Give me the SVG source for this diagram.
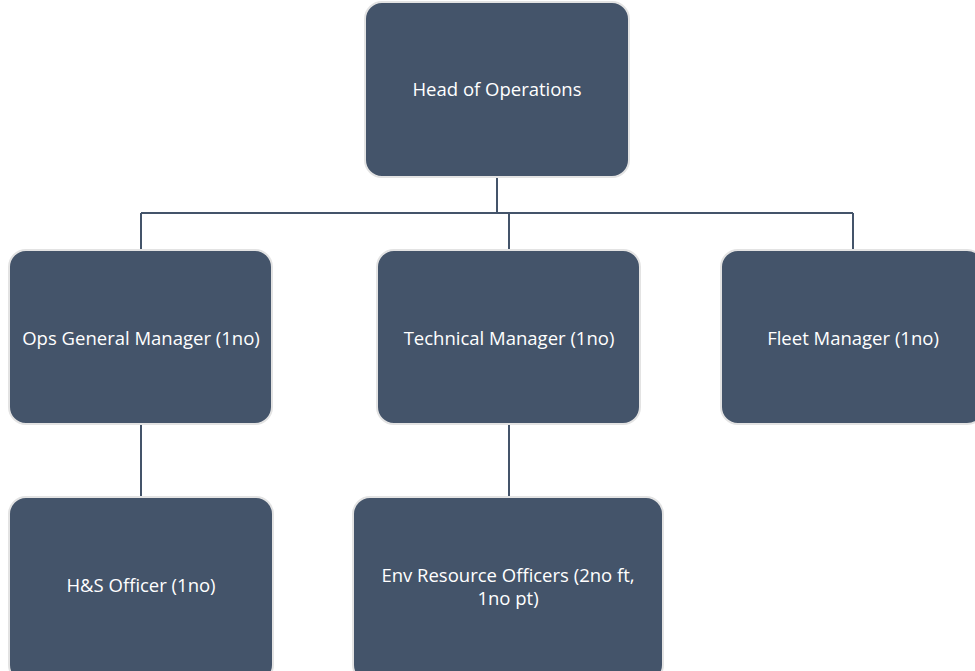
<svg xmlns="http://www.w3.org/2000/svg" width="975" height="671" viewBox="0 0 975 671">
<style>
.box{fill:#44546a;stroke:#e3e3e3;stroke-width:2}
.lbl{fill:#ffffff;font-family:"Open Sans","Liberation Sans",sans-serif;font-size:18.5px;text-anchor:middle}
.con{stroke:#44546a;stroke-width:2;fill:none}
</style>
<rect width="975" height="671" fill="#ffffff"/>
<g id="connectors">
<path class="con" d="M497 177V213M141 213H853M141 213V250M509 213V250M853 213V250M141 424V497M509 424V497"/>
</g>
<g id="head">
<rect class="box" x="365" y="2" width="264" height="175" rx="17"/>
<text class="lbl" x="497" y="96">Head of Operations</text>
</g>
<g id="ops">
<rect class="box" x="9" y="250" width="263" height="174" rx="17"/>
<text class="lbl" x="141" y="345">Ops General Manager (1no)</text>
</g>
<g id="tech">
<rect class="box" x="377" y="250" width="263" height="174" rx="17"/>
<text class="lbl" x="509" y="345">Technical Manager (1no)</text>
</g>
<g id="fleet">
<rect class="box" x="721" y="250" width="263" height="174" rx="17"/>
<text class="lbl" x="853" y="345">Fleet Manager (1no)</text>
</g>
<g id="hs">
<rect class="box" x="9" y="497" width="264" height="185" rx="17"/>
<text class="lbl" x="141" y="592">H&amp;S Officer (1no)</text>
</g>
<g id="env">
<rect class="box" x="353" y="497" width="310" height="185" rx="17"/>
<text class="lbl" x="508" y="582">Env Resource Officers (2no ft,</text>
<text class="lbl" x="508" y="605">1no pt)</text>
</g>
</svg>
